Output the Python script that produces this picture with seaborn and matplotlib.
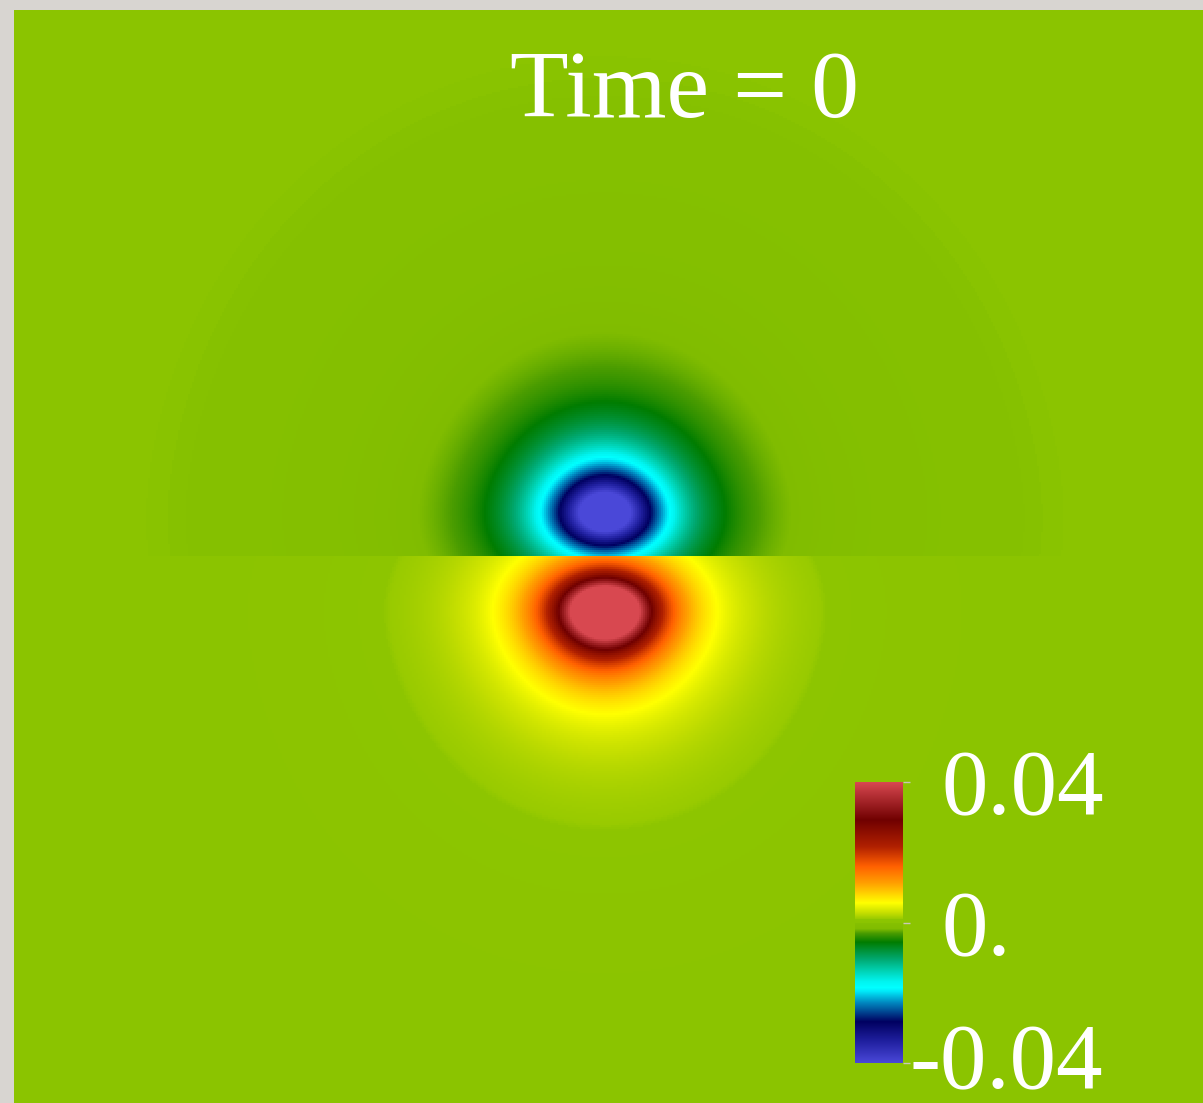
import numpy as np
import pandas as pd
import seaborn as sns
import matplotlib.pyplot as plt
from matplotlib.colors import LinearSegmentedColormap
from matplotlib.transforms import ScaledTranslation

# ---- field description --------------------------------------------------
# domain (x to the right, y upward); the interface sits at y = 0
x_limits = (-5.91, 5.98)
y_limits = (-5.48, 5.45)

# two lobes: the negative one above the interface, the positive one below
lobe_side = [1, -1]              # +1 -> lives in y > 0, -1 -> lives in y < 0
lobe_center_y = [0.43, -0.57]
lobe_peak = [-0.0480, 0.0668]
lobe_radius = [0.76, 0.55]
lobe_power = [1.75, 1.5]
lobe_flatten = [0.72, 0.72]      # vertical squeeze near the lobe core
lobe_stretch = [0.30, 0.30]      # extra vertical reach of the outer contours

# weak far-field tail above the interface
tail_peak = [-0.00055, 0.0]
tail_radius = [1.5, 1.5]

# colour scale
value_min, value_max = -0.04, 0.04
cbar_ticks = [-0.04, 0.0, 0.04]
cbar_ticklabels = ["-0.04", "0.", "0.04"]
cmap_positions = [0.000, 0.076, 0.147, 0.215, 0.255, 0.268, 0.290, 0.330,
                  0.370, 0.430, 0.462, 0.478, 0.4978, 0.4983, 0.500, 0.5115,
                  0.5125, 0.534, 0.570, 0.640, 0.700, 0.770, 0.865, 1.000]
cmap_colors = ["#4a48d8", "#2020a0", "#000060", "#0088c0", "#00e8f8",
               "#00ffff", "#00f4f0", "#00d0b0", "#00a870", "#007c00",
               "#4a9c00", "#80bc00", "#85c000", "#8bc400", "#8bc400",
               "#8dc500", "#98ca00", "#c4de00", "#ffff00", "#ffa000",
               "#ff6000", "#b02000", "#700000", "#d84850"]
title_text = "Time = 0"

# ---- build the field on a grid ------------------------------------------
nx, ny = 595, 547
xs = np.linspace(x_limits[0], x_limits[1], nx)
ys = np.linspace(y_limits[1], y_limits[0], ny)   # rows run top -> bottom
X, Y = np.meshgrid(xs, ys)
field = np.zeros_like(X)

for side, yc, peak, a, p, flat, stretch, tpk, tr in zip(
        lobe_side, lobe_center_y, lobe_peak, lobe_radius, lobe_power,
        lobe_flatten, lobe_stretch, tail_peak, tail_radius):
    region = (Y * side) > 0
    dy = Y - yc
    away = (dy * side) > 0
    sy = np.where(away, flat + stretch * (1 - np.exp(-np.abs(dy) / 1.0)), flat)
    r2 = X ** 2 + (dy / sy) ** 2
    lobe = peak / (1 + r2 / a ** 2) ** p
    tail = tpk / (1 + (X ** 2 + Y ** 2) / tr ** 2)
    field = np.where(region, lobe + tail, field)

df = pd.DataFrame(field, index=np.round(ys, 3), columns=np.round(xs, 3))

cmap = LinearSegmentedColormap.from_list(
    "field", list(zip(cmap_positions, cmap_colors)), N=4096)

# ---- draw -----------------------------------------------------------------
sns.set_style("white")
plt.rcParams["font.family"] = ["Liberation Serif", "DejaVu Serif"]

W, H = 1203, 1103
fig = plt.figure(figsize=(W / 100, H / 100), dpi=100, facecolor="#d8d5d1")
ax = fig.add_axes([14 / W, 0, 1189 / W, 1093 / H])
cax = fig.add_axes([855 / W, 40 / H, 48 / W, 281 / H])

sns.heatmap(df, ax=ax, cmap=cmap, vmin=value_min, vmax=value_max,
            cbar=True, cbar_ax=cax, xticklabels=False, yticklabels=False,
            rasterized=True)
ax.set_xlabel("")
ax.set_ylabel("")
ax.tick_params(left=False, bottom=False)

cbar = ax.collections[0].colorbar
cbar.outline.set_visible(False)
cbar.set_ticks(cbar_ticks)
cbar.set_ticklabels(cbar_ticklabels)
cax.tick_params(axis="y", right=True, length=5, width=1, color="#c8c8b8",
                labelsize=67, labelcolor="white", pad=23)
for lab in cax.get_yticklabels():
    lab.set_fontfamily(["Liberation Serif", "DejaVu Serif"])
    if lab.get_text().startswith("-"):
        lab.set_transform(lab.get_transform() +
                          ScaledTranslation(-0.32, 0.07, fig.dpi_scale_trans))

fig.text(684 / W, 1 - 117 / H, title_text, ha="center", va="baseline",
         color="white", fontsize=69, family=["Liberation Serif", "DejaVu Serif"])

fig.savefig("out.png", dpi=100, facecolor=fig.get_facecolor())
